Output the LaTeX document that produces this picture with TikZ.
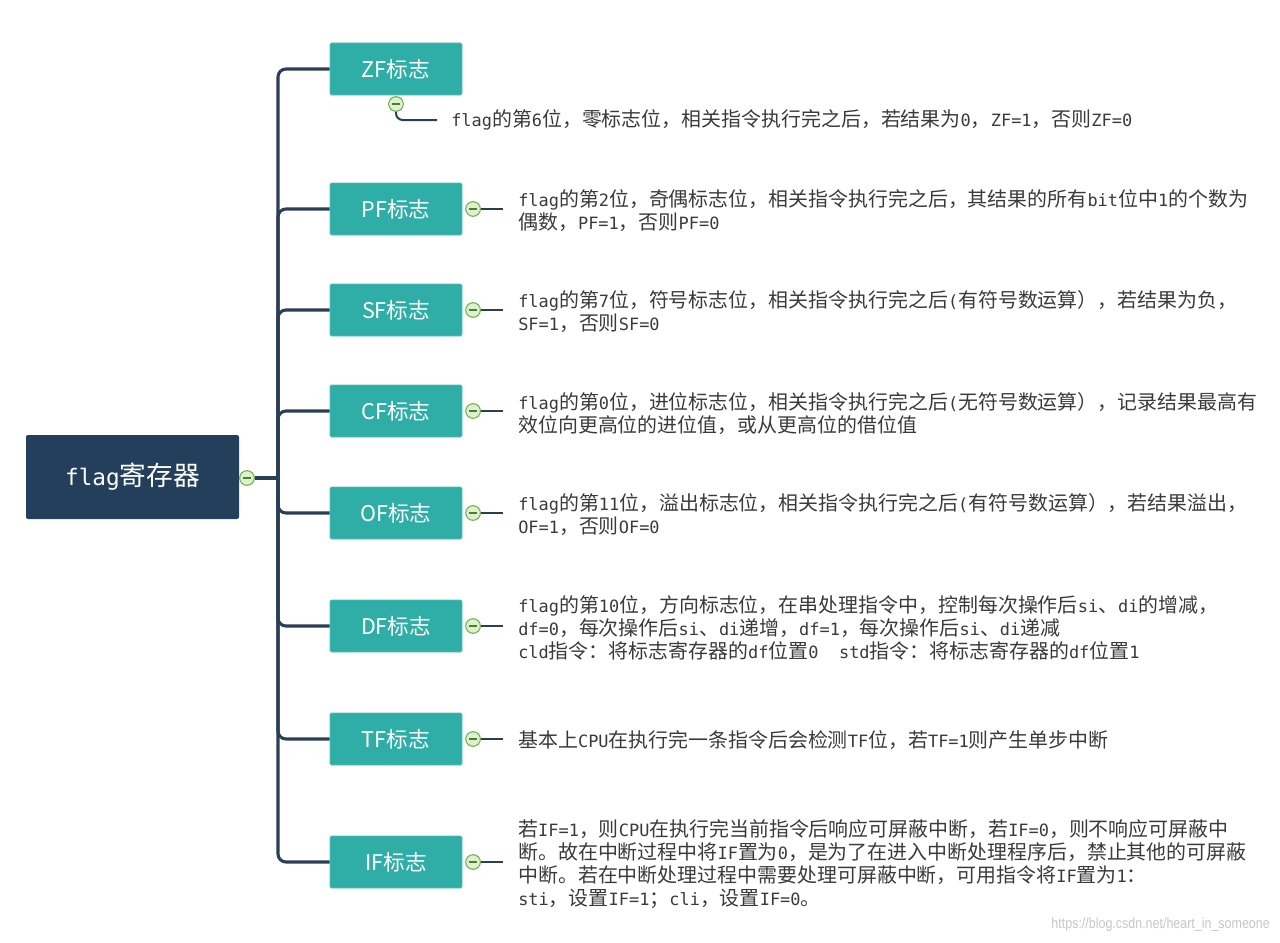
\documentclass[tikz,border=0pt]{standalone}
\usepackage{fontspec}
\setmainfont{Noto Sans CJK SC}
\newfontfamily\cjkf{Noto Sans CJK SC}
\newfontfamily\latf{DejaVu Sans Mono}[Scale=0.85]
\newfontfamily\wmfont{Liberation Sans}
\makeatletter
\newXeTeXintercharclass\cjkcls
\count@="3000
\loop \XeTeXcharclass\count@=\cjkcls \advance\count@ 1 \ifnum\count@<"A000 \repeat
\count@="FF00
\loop \XeTeXcharclass\count@=\cjkcls \advance\count@ 1 \ifnum\count@<"FFF0 \repeat
\makeatother
\XeTeXinterchartoks 0 \cjkcls = {\cjkf}
\XeTeXinterchartoks \cjkcls 0 = {\latf}
\XeTeXinterchartoks 4095 \cjkcls = {\cjkf}
\XeTeXinterchartoks 4095 0 = {\latf}
\newcommand\mixon{\XeTeXinterchartokenstate=1\relax}
\newcommand\mixoff{\XeTeXinterchartokenstate=0\relax}
\definecolor{navy}{HTML}{243F5C}
\definecolor{teal2}{HTML}{2FAEA8}
\definecolor{connc}{HTML}{2A3E55}
\definecolor{txt}{HTML}{3A3A3A}
\definecolor{togfill}{HTML}{DDF0CF}
\definecolor{togdraw}{HTML}{6CB24A}
\tikzset{
  rootbox/.style={rectangle, rounded corners=1.5pt, fill=navy, text=white,
    minimum width=159.75pt, minimum height=63pt, inner sep=0pt,
    font={\mixon\fontsize{20}{23}\selectfont}},
  childbox/.style={rectangle, rounded corners=1pt, fill=teal2, draw=teal2!80!white, line width=0.6pt,
    text=white, minimum width=99pt, minimum height=39pt, inner sep=0pt,
    font={\mixoff\fontsize{16.2}{18}\selectfont}},
  desc/.style={anchor=west, inner sep=0pt, align=left, text=txt,
    font={\mixon\fontsize{14.95}{17.25}\selectfont}},
  tog/.style={circle, minimum size=11pt, inner sep=0pt, fill=togfill, draw=togdraw, line width=0.8pt,
    path picture={\draw[togdraw!70!black, line width=0.8pt]
      ([xshift=-3pt]path picture bounding box.center) -- ([xshift=3pt]path picture bounding box.center);}},
  trunk/.style={draw=connc, line width=2.3pt, rounded corners=6pt},
  leaf/.style={draw=connc, line width=1.5pt, rounded corners=5pt},
}
\begin{document}
\begin{tikzpicture}[x=0.75pt,y=-0.75pt]
\useasboundingbox (0,0) rectangle (1280,942);
% root
\node[rootbox] (root) at (132.5,477) {flag寄存器};
\coordinate (J) at (278,478);
% children
\node[childbox] (zf) at (396,69) {ZF标志};
\node[childbox] (pf) at (396,209) {PF标志};
\node[childbox] (sf) at (396,310) {SF标志};
\node[childbox] (cf) at (396,411) {CF标志};
\node[childbox] (of) at (396,513) {OF标志};
\node[childbox] (df) at (396,626) {DF标志};
\node[childbox] (tf) at (396,739) {TF标志};
\node[childbox] (if) at (396,862) {IF标志};
\foreach \c in {zf,pf,sf,cf,of,df,tf,if}{
  \draw[trunk] (J) -- (J |- \c) -- (\c.west);
}
\node[tog] (rt) at (247,478) {};
\draw[trunk] (rt.east) -- (J);
% ZF description
\node[tog] (zt) at (396,104) {};
\node[desc] (zd) at (451,120) {flag的第6位，零标志位，相关指令执行完之后，若结果为0，ZF=1，否则ZF=0};
\draw[leaf, shorten >=10.5pt] (zt.south) |- (zd.west);
% other descriptions
\node[desc] (pd) at (518,210.5) {flag的第2位，奇偶标志位，相关指令执行完之后，其结果的所有bit位中1的个数为\\偶数，PF=1，否则PF=0};
\node[desc] (sd) at (518,311.5) {flag的第7位，符号标志位，相关指令执行完之后(有符号数运算），若结果为负，\\SF=1，否则SF=0};
\node[desc] (cd) at (518,413.5) {flag的第0位，进位标志位，相关指令执行完之后(无符号数运算），记录结果最高有\\效位向更高位的进位值，或从更高位的借位值};
\node[desc] (od) at (518,514.5) {flag的第11位，溢出标志位，相关指令执行完之后(有符号数运算），若结果溢出，\\OF=1，否则OF=0};
\node[desc] (dd) at (518,628) {flag的第10位，方向标志位，在串处理指令中，控制每次操作后si、di的增减，\\df=0，每次操作后si、di递增，df=1，每次操作后si、di递减\\cld指令：将标志寄存器的df位置0\ \ std指令：将标志寄存器的df位置1};
\node[desc] (td) at (518,740) {基本上CPU在执行完一条指令后会检测TF位，若TF=1则产生单步中断};
\node[desc] (id) at (518,864.5) {若IF=1，则CPU在执行完当前指令后响应可屏蔽中断，若IF=0，则不响应可屏蔽中\\断。故在中断过程中将IF置为0，是为了在进入中断处理程序后，禁止其他的可屏蔽\\中断。若在中断处理过程中需要处理可屏蔽中断，可用指令将IF置为1：\\sti，设置IF=1；cli，设置IF=0。};
\foreach \c/\d in {pf/pd,sf/sd,cf/cd,of/od,df/dd,tf/td,if/id}{
  \node[tog] (\c t) at ([xshift=8pt]\c.east) {};
  \draw[leaf, shorten >=11.25pt] (\c t.east) -- (\c t.east -| \d.west);
}
% watermark
\node[anchor=east, inner sep=0pt, text=gray!45, font={\mixoff\wmfont\fontsize{11}{13}\selectfont}, xscale=0.85] (wm) at (1270,925) {https://blog.csdn.net/heart\_in\_someone};
\end{tikzpicture}
\end{document}
